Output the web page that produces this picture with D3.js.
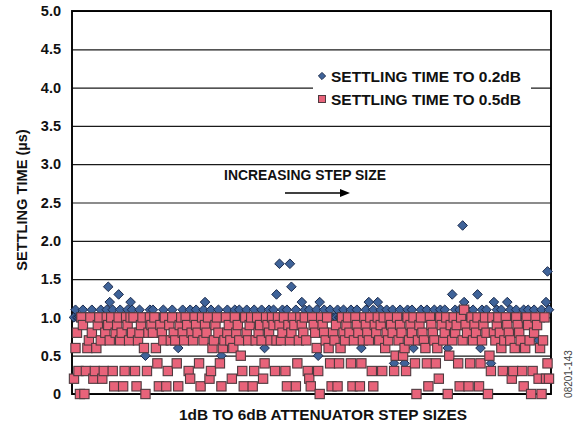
<!DOCTYPE html>
<html>
<head>
<meta charset="utf-8">
<script src="https://cdn.jsdelivr.net/npm/d3@7/dist/d3.min.js"></script>
<style>
html,body{margin:0;padding:0;background:#fff;}
svg{display:block;}
text{font-family:"Liberation Sans",Arial,Helvetica,sans-serif;font-weight:bold;fill:#111;}
</style>
</head>
<body>
<svg id="chart" width="579" height="427"></svg>
<script>
// ---- data ----
const yTickValues = [0, 0.5, 1.0, 1.5, 2.0, 2.5, 3.0, 3.5, 4.0, 4.5, 5.0];
const yTickLabels = ["0", "0.5", "1.0", "1.5", "2.0", "2.5", "3.0", "3.5", "4.0", "4.5", "5.0"];
const seriesNames = ["SETTLING TIME TO 0.2dB", "SETTLING TIME TO 0.5dB"];
const yTitle = "SETTLING TIME (\u00b5s)";
const xTitle = "1dB TO 6dB ATTENUATOR STEP SIZES";
const annotation = "INCREASING STEP SIZE";
const figureId = "08201-143";

// settling time to 0.2dB (us), one value per step
const settle02 = [
  1.0,1.1,1.0,1.0,1.0,1.0,1.1,1.0,1.0,1.0,1.0,1.0,1.1,1.0,1.0,1.0,1.0,1.0,1.1,1.0,
  1.0,1.0,1.1,1.4,1.2,1.0,1.1,1.0,1.0,1.0,1.3,1.1,1.0,1.0,1.0,1.0,1.1,1.0,1.2,1.1,
  1.0,1.0,1.0,1.0,1.1,1.0,1.0,1.0,0.5,1.0,1.0,1.1,1.0,1.1,1.0,1.0,1.0,1.0,1.0,1.0,
  1.1,1.0,1.0,1.0,1.0,1.0,1.1,1.0,1.0,1.0,0.6,1.0,1.0,1.1,1.0,1.0,1.0,1.0,1.1,1.0,
  1.0,1.0,1.1,1.0,1.0,1.0,1.0,1.1,1.2,1.0,1.0,1.0,1.1,1.0,1.0,1.0,1.0,1.1,1.0,0.5,
  1.0,1.0,1.0,1.1,1.0,1.0,1.0,1.0,1.1,1.0,1.0,1.1,1.0,1.0,1.0,1.0,1.1,1.0,1.0,1.0,
  1.0,1.1,1.0,1.0,1.0,1.0,1.1,1.0,0.6,1.0,1.0,1.1,1.0,1.0,1.1,1.0,1.3,1.0,1.7,1.0,
  1.1,1.0,1.0,1.1,1.0,1.7,1.4,1.0,1.0,1.1,1.0,1.0,1.0,1.2,1.0,1.1,1.0,1.0,1.1,1.0,
  1.0,1.0,1.0,1.1,0.5,1.2,1.0,1.0,1.1,1.0,1.0,1.0,1.1,1.0,1.0,1.0,1.0,1.1,1.0,1.0,
  1.0,1.1,1.0,1.0,1.0,1.0,1.1,1.0,1.0,1.0,1.1,1.0,1.0,0.6,1.0,1.0,1.1,1.0,1.2,1.0,
  1.0,1.1,1.0,1.0,1.2,1.0,1.1,1.0,1.0,1.0,1.1,1.0,1.0,1.0,1.1,0.4,1.0,1.0,1.0,1.1,
  1.0,1.0,0.4,1.0,1.1,1.0,1.0,1.1,0.6,1.0,1.0,1.0,1.0,1.1,1.0,1.0,1.0,1.1,1.0,1.0,
  1.0,1.0,1.1,1.0,1.0,1.0,1.1,1.0,1.0,1.1,1.0,0.6,1.0,1.0,1.3,1.0,1.1,1.0,1.0,1.1,
  1.0,2.2,1.2,1.0,1.1,1.0,1.0,1.0,1.1,1.0,1.0,1.3,1.0,0.6,1.1,1.0,1.0,1.1,1.0,1.0,
  0.4,1.0,1.2,1.0,1.1,1.0,1.0,1.1,1.0,1.0,1.0,1.2,1.0,1.1,1.0,1.0,1.0,1.1,1.0,1.0,
  1.0,1.0,1.1,1.0,1.0,1.1,1.0,1.0,1.0,1.1,1.0,1.0,0.7,1.0,1.1,1.0,1.0,1.2,1.6,1.1
];

// settling time to 0.5dB (us), one value per step
const settle05 = [
  0.2,0.6,0.8,0.3,0,1.0,0.9,0,0.3,0.6,0.7,1.0,0.8,0.2,0.3,0.6,0.9,1.0,0.7,0.2,
  0.3,0.8,1.0,0.9,0.7,1.0,0.3,0.1,0.8,0.9,1.0,0.7,0.8,0.1,0.3,1.0,0.9,0.7,1.0,0.8,
  1.0,0.3,0.1,0.7,0.8,0.9,1.0,0.6,0,0.3,0.8,1.0,0.9,0.8,1.0,0.6,0.4,0.1,0.9,0.8,
  0.7,1.0,0.1,0.3,0.9,0.7,1.0,0.8,0.7,0.4,0.1,0.9,1.0,0.8,0.7,1.0,0.9,0.3,0.2,0.8,
  0.7,1.0,0.9,0.8,0.4,0.1,1.0,0.7,0.9,0.8,1.0,0.2,0.3,0.6,0.7,0.9,1.0,0.8,0.4,0.1,
  0.6,0.7,1.0,0.8,0.9,0.7,0.2,0.6,1.0,0.8,0.9,0.7,0.5,0.3,0.1,1.0,0.8,0.7,0.9,1.0,
  0.1,0.3,0.7,1.0,0.8,0.9,0.7,0.2,0.4,1.0,0.9,0.8,0.7,1.0,0.9,0.3,0.7,1.0,0.9,0.7,
  0.8,1.0,0.3,0.1,0.9,0.7,0.8,1.0,0.9,0.1,0.4,0.7,1.0,0.9,0.8,1.0,0.7,0.3,0.2,0.1,
  1.0,0.9,0.8,0.6,0.3,0,1.0,0.9,0.8,0.7,1.0,0.6,0.4,0.1,0.8,0.7,0.9,0.1,0.4,0.6,
  1.0,0.8,0.7,0.9,1.0,0.8,0.4,0.1,0.7,1.0,0.9,0.8,0.1,0.4,0.7,1.0,0.9,0.8,0.7,1.0,
  0.3,0.1,0.9,0.8,1.0,0.7,0.9,0.3,1.0,0.6,0.8,0.7,1.0,0.9,0.8,0.3,0.5,1.0,0.7,0.9,
  0.8,0.5,0.6,0.3,1.0,0.7,0.9,0.8,1.0,0.4,0,0.7,0.9,1.0,0.8,0.7,0.6,0.4,0.1,1.0,
  0.9,0.8,0.7,0.4,0.6,0.2,1.0,0.9,0.7,0.8,1.0,0,0.5,0.9,0.7,1.0,0.8,0.9,0.4,0.1,
  1.0,0.7,1.1,0.9,0.8,0.1,0.4,1.0,0.7,0.9,0.8,1.0,0.1,0.4,0.7,0.9,1.0,0.8,0,0.5,
  0.3,1.0,0.8,0.7,0.9,1.0,0.8,0.6,0.3,0.7,1.0,0.9,0.8,0.7,0.2,0.3,0.6,1.0,0.9,0.8,
  0.7,0.3,0.1,0.6,1.0,0.9,0.7,0,0.3,0.8,1.0,0.9,0.2,0.6,0,0.7,1.0,0.2,0.4,0.2
];
const steps = d3.range(settle05.length); // step index (categories)

// ---- layout ----
const svg = d3.select("#chart");
const plot = {left: 72, right: 551, top: 11, bottom: 394};
const x = d3.scaleLinear().domain([0, steps.length - 1]).range([74, 549]);
const y = d3.scaleLinear().domain([0, 5]).range([plot.bottom, plot.top]);

const blueFill = "#3f6399", blueStroke = "#1b2b4d";
const redFill = "#e8637a", redStroke = "#4f3a3f";

// gridlines
const grid = svg.append("g")
  .attr("transform", `translate(${plot.left},0)`)
  .call(d3.axisLeft(y).tickValues(yTickValues).tickSizeInner(-(plot.right - plot.left)).tickSizeOuter(0).tickFormat(""));
grid.select(".domain").remove();
grid.selectAll("line").attr("stroke", "#1a1a1a").attr("stroke-width", 1.2);

// y axis labels
const yAxis = svg.append("g")
  .attr("transform", `translate(${plot.left},0)`)
  .call(d3.axisLeft(y).tickValues(yTickValues).tickSize(0).tickPadding(11)
    .tickFormat((d, i) => yTickLabels[i]));
yAxis.select(".domain").remove();
yAxis.selectAll("text").attr("font-size", 14.5).attr("font-weight", "bold")
  .attr("font-family", '"Liberation Sans",Arial,sans-serif').attr("fill", "#111");

// frame
svg.append("rect")
  .attr("x", plot.left).attr("y", plot.top)
  .attr("width", plot.right - plot.left).attr("height", plot.bottom - plot.top)
  .attr("fill", "none").attr("stroke", "#000").attr("stroke-width", 1.9);

// legend box (covers gridline)
svg.append("rect").attr("x", 313).attr("y", 65).attr("width", 218).attr("height", 45).attr("fill", "#fff");

// series 1: diamonds
const diamond = (cx, cy, r) => `M${cx},${cy - r}L${cx + r},${cy}L${cx},${cy + r}L${cx - r},${cy}Z`;
svg.append("g").selectAll("path").data(steps).join("path")
  .attr("d", i => diamond(x(i), y(settle02[i]), 4.8))
  .attr("fill", blueFill).attr("stroke", blueStroke).attr("stroke-width", 1);

// series 2: squares
const sq = 9.3;
svg.append("g").selectAll("rect").data(steps).join("rect")
  .attr("x", i => x(i) - sq / 2).attr("y", i => y(settle05[i]) - sq / 2)
  .attr("width", sq).attr("height", sq)
  .attr("fill", redFill).attr("stroke", redStroke).attr("stroke-width", 1.1);

// legend
svg.append("path").attr("d", diamond(322, 76, 3.6)).attr("fill", blueFill).attr("stroke", blueStroke).attr("stroke-width", 1);
svg.append("rect").attr("x", 318.5).attr("y", 95.5).attr("width", 7).attr("height", 7)
  .attr("fill", redFill).attr("stroke", redStroke).attr("stroke-width", 1);
svg.append("text").attr("x", 331).attr("y", 81.5).attr("font-size", 15.5).text(seriesNames[0]);
svg.append("text").attr("x", 331).attr("y", 105).attr("font-size", 15.5).text(seriesNames[1]);

// annotation
svg.append("text").attr("x", 305).attr("y", 180).attr("text-anchor", "middle").attr("font-size", 13.9).text(annotation);
svg.append("line").attr("x1", 285).attr("y1", 193).attr("x2", 342).attr("y2", 193).attr("stroke", "#000").attr("stroke-width", 1.5);
svg.append("path").attr("d", "M350,193L340,189L340,197Z").attr("fill", "#000");

// axis titles
svg.append("text").attr("transform", "translate(27,200) rotate(-90)").attr("text-anchor", "middle")
  .attr("font-size", 14.6).text(yTitle);
svg.append("text").attr("x", 323).attr("y", 420).attr("text-anchor", "middle").attr("font-size", 15.4).text(xTitle);

// figure id
svg.append("text").attr("transform", "translate(572,374) rotate(-90)").attr("text-anchor", "middle")
  .attr("font-size", 10).style("font-weight", "normal").style("fill", "#444").text(figureId);
</script>
</body>
</html>
